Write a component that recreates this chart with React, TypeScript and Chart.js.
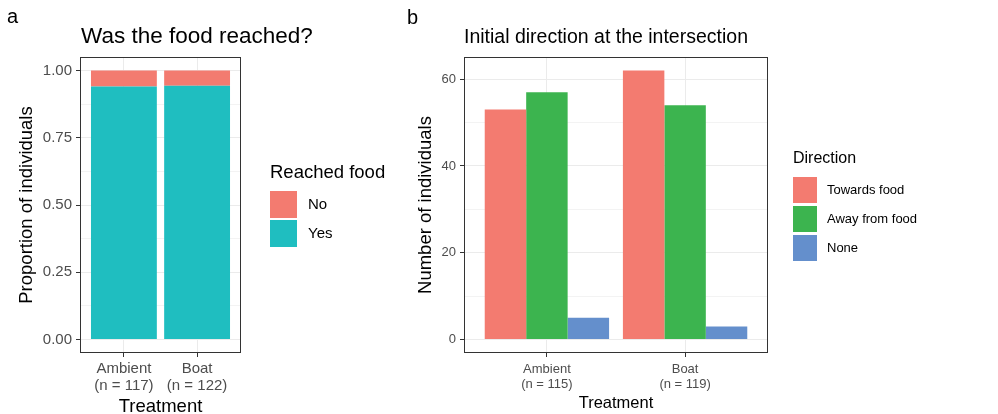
import React, { useEffect, useRef } from 'react';
import { Chart, registerables } from 'chart.js';

Chart.register(...registerables);

// ---------- data ----------
const treatments = ['Ambient', 'Boat'];
const nReached = ['(n = 117)', '(n = 122)'];
const nDirection = ['(n = 115)', '(n = 119)'];

const reachedYes = [0.94, 0.943];
const reachedNo = [0.06, 0.057];

const towardsFood = [53, 62];
const awayFromFood = [57, 54];
const noDirection = [5, 3];

const propTicks = [0, 0.125, 0.25, 0.375, 0.5, 0.625, 0.75, 0.875, 1];
const propMajor = [0, 0.25, 0.5, 0.75, 1];
const countTicks = [0, 10, 20, 30, 40, 50, 60];
const countMajor = [0, 20, 40, 60];

const FONT = '"Liberation Sans", Arial, sans-serif';
const RED = '#F37B70';
const TEAL = '#1FBEC0';
const GREEN = '#3CB44F';
const BLUE = '#648FCC';

const isIn = (arr: number[], v: number) => arr.some((a) => Math.abs(a - v) < 1e-9);

const decorPlugin = {
  id: 'decor',
  afterDatasetsDraw(chart: any, _args: any, o: any) {
    const { ctx, chartArea: a } = chart;
    ctx.save();
    // panel border
    ctx.strokeStyle = '#333333';
    ctx.lineWidth = 1;
    const l = Math.round(a.left), t = Math.round(a.top), r = Math.round(a.right), b = Math.round(a.bottom);
    ctx.strokeRect(l + 0.5, t + 0.5, r - l - 1, b - t - 1);
    ctx.fillStyle = '#000000';
    ctx.textAlign = 'left';
    ctx.textBaseline = 'alphabetic';
    // tag
    ctx.font = `${o.tagSize}px ${FONT}`;
    ctx.fillText(o.tag, o.tagX, o.tagY);
    // title
    ctx.font = `${o.titleSize}px ${FONT}`;
    ctx.fillText(o.title, o.titleX, o.titleY);
    // legend
    ctx.font = `${o.legTitleSize}px ${FONT}`;
    ctx.fillText(o.legTitle, o.legX, o.legTitleY);
    ctx.font = `${o.legLabelSize}px ${FONT}`;
    ctx.textBaseline = 'middle';
    o.legOrder.forEach((di: number, k: number) => {
      const ds = chart.data.datasets[di];
      const y = o.legBoxY + k * o.legStep;
      ctx.fillStyle = ds.backgroundColor;
      ctx.fillRect(o.legX, y, o.legBoxW, o.legBoxH);
      ctx.fillStyle = '#000000';
      ctx.fillText(ds.label, o.legLabelX, y + o.legBoxH / 2);
    });
    ctx.restore();
  },
};

function makeConfig(p: any) {
  return {
    type: 'bar',
    data: { datasets: p.datasets },
    options: {
      animation: false,
      responsive: false,
      devicePixelRatio: 1,
      layout: { padding: p.padding },
      categoryPercentage: 0.9,
      barPercentage: 1,
      plugins: {
        legend: { display: false },
        tooltip: { enabled: false },
        decor: p.decor,
      },
      scales: {
        x: {
          type: 'linear',
          stacked: p.stacked,
          offset: false,
          min: 0.4,
          max: 2.6,
          afterBuildTicks: (s: any) => {
            s.ticks = treatments.map((_, i) => ({ value: i + 1 }));
          },
          afterFit: (s: any) => {
            s.height = p.xHeight;
          },
          ticks: {
            autoSkip: false,
            maxRotation: 0,
            padding: p.xTickPad,
            color: '#4D4D4D',
            font: { family: FONT, size: p.tickSize, lineHeight: p.xTickLH },
            callback: (v: number) => {
              const i = Math.round(v) - 1;
              return [treatments[i], p.nLabels[i]];
            },
          },
          grid: {
            offset: false,
            color: '#EBEBEB',
            lineWidth: 1,
            tickLength: 4,
            tickColor: '#333333',
          },
          border: { display: false },
          title: {
            display: true,
            text: 'Treatment',
            color: '#000000',
            font: { family: FONT, size: p.xTitleSize, lineHeight: p.xTitleLH },
            padding: 0,
          },
        },
        y: {
          type: 'linear',
          stacked: p.stacked,
          min: p.yMin,
          max: p.yMax,
          afterBuildTicks: (s: any) => {
            s.ticks = p.yTicks.map((v: number) => ({ value: v }));
          },
          afterFit: (s: any) => {
            s.width = p.yWidth;
          },
          ticks: {
            autoSkip: false,
            padding: 4,
            color: '#4D4D4D',
            font: { family: FONT, size: p.tickSize },
            callback: (v: number) => (isIn(p.yMajor, v) ? p.fmt(v) : ''),
          },
          grid: {
            color: (c: any) => (c.tick && isIn(p.yMajor, c.tick.value) ? '#EBEBEB' : '#F3F3F3'),
            lineWidth: 1,
            tickLength: 4,
            tickColor: (c: any) => (c.tick && isIn(p.yMajor, c.tick.value) ? '#333333' : 'rgba(0,0,0,0)'),
          },
          border: { display: false },
          title: {
            display: true,
            text: p.yTitle,
            color: '#000000',
            font: { family: FONT, size: p.yTitleSize },
            padding: { top: p.yTitlePad, bottom: 0 },
          },
        },
      },
    },
    plugins: [decorPlugin],
  };
}

const pts = (vals: number[]) => vals.map((y, i) => ({ x: i + 1, y }));

function Panel({ left, width, cfg }: any) {
  const ref = useRef<HTMLCanvasElement>(null);
  useEffect(() => {
    const chart = new Chart(ref.current as HTMLCanvasElement, cfg() as any);
    return () => chart.destroy();
  }, []);
  return (
    <canvas
      ref={ref}
      width={width}
      height={414}
      style={{ position: 'absolute', left, top: 0, width, height: 414 }}
    />
  );
}

const cfgA = () =>
  makeConfig({
    datasets: [
      { label: 'Yes', data: pts(reachedYes), backgroundColor: TEAL },
      { label: 'No', data: pts(reachedNo), backgroundColor: RED },
    ],
    stacked: true,
    padding: { left: 0, top: 57, right: 159, bottom: 0 },
    xHeight: 61,
    yWidth: 80,
    xTickPad: 3,
    xTickLH: 17 / 15,
    tickSize: 15,
    nLabels: nReached,
    xTitleSize: 18.5,
    xTitleLH: 0.8,
    yMin: -0.05,
    yMax: 1.05,
    yTicks: propTicks,
    yMajor: propMajor,
    fmt: (v: number) => v.toFixed(2),
    yTitle: 'Proportion of individuals',
    yTitleSize: 18.5,
    yTitlePad: 16,
    decor: {
      tag: 'a', tagSize: 20, tagX: 7, tagY: 23,
      title: 'Was the food reached?', titleSize: 22.5, titleX: 81, titleY: 43,
      legTitle: 'Reached food', legTitleSize: 18.5, legX: 270, legTitleY: 178,
      legLabelSize: 15, legBoxY: 191, legStep: 29, legBoxW: 27, legBoxH: 27, legLabelX: 308,
      legOrder: [1, 0],
    },
  });

const cfgB = () =>
  makeConfig({
    datasets: [
      { label: 'Towards food', data: pts(towardsFood), backgroundColor: RED },
      { label: 'Away from food', data: pts(awayFromFood), backgroundColor: GREEN },
      { label: 'None', data: pts(noDirection), backgroundColor: BLUE },
    ],
    stacked: false,
    padding: { left: 0, top: 57, right: 230, bottom: 0 },
    xHeight: 61,
    yWidth: 64,
    xTickPad: 5,
    xTickLH: 15 / 13,
    tickSize: 13,
    nLabels: nDirection,
    xTitleSize: 16.5,
    xTitleLH: 1.3,
    yMin: -3.1,
    yMax: 65.1,
    yTicks: countTicks,
    yMajor: countMajor,
    fmt: (v: number) => String(v),
    yTitle: 'Number of individuals',
    yTitleSize: 18.5,
    yTitlePad: 15,
    decor: {
      tag: 'b', tagSize: 20, tagX: 7, tagY: 24,
      title: 'Initial direction at the intersection', titleSize: 19.5, titleX: 64, titleY: 43,
      legTitle: 'Direction', legTitleSize: 16, legX: 393, legTitleY: 163,
      legLabelSize: 13, legBoxY: 177, legStep: 29, legBoxW: 24, legBoxH: 26, legLabelX: 427,
      legOrder: [0, 1, 2],
    },
  });

export default function App() {
  return (
    <div style={{ position: 'absolute', left: 0, top: 0, width: 998, height: 414, background: '#ffffff' }}>
      <Panel left={0} width={400} cfg={cfgA} />
      <Panel left={400} width={598} cfg={cfgB} />
    </div>
  );
}
